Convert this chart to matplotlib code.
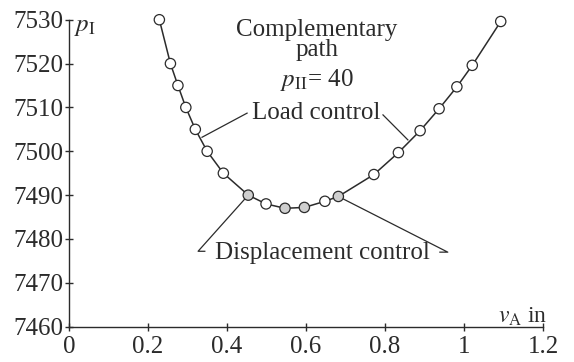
import matplotlib.pyplot as plt

# complementary path, p_II = 40
v_a = [0.229, 0.257, 0.276, 0.296, 0.320, 0.350, 0.391, 0.454, 0.499, 0.547,
       0.596, 0.648, 0.682, 0.772, 0.834, 0.889, 0.937, 0.982, 1.021, 1.093]
p_1 = [7530.0, 7520.0, 7515.0, 7510.0, 7505.0, 7500.0, 7495.0, 7490.0, 7488.0, 7487.0,
       7487.2, 7488.6, 7489.7, 7494.7, 7499.7, 7504.7, 7509.7, 7514.7, 7519.6, 7529.6]
# displacement-control points that are shaded grey in the figure
shaded = [7, 9, 10, 12]

x_ticks = [0, 0.2, 0.4, 0.6, 0.8, 1.0, 1.2]
x_labels = ["0", "0.2", "0.4", "0.6", "0.8", "1", "1.2"]
y_ticks = [7460, 7470, 7480, 7490, 7500, 7510, 7520, 7530]

plt.rcParams['font.family'] = ['Liberation Serif', 'DejaVu Serif']
plt.rcParams['mathtext.fontset'] = 'stix'
plt.rcParams['font.size'] = 18

ink = '#2b2b2b'
fig = plt.figure(figsize=(5.74, 3.62), dpi=100)
ax = fig.add_axes([0.120, 0.0975, 0.826, 0.848])

ax.plot(v_a, p_1, color=ink, lw=1.1, zorder=2, clip_on=False)
faces = ['#cfcfcf' if i in shaded else 'white' for i in range(len(v_a))]
ax.scatter(v_a, p_1, s=55, facecolors=faces, edgecolors=ink, linewidths=0.9,
           zorder=3, clip_on=False)

ax.set_xlim(0, 1.2)
ax.set_ylim(7460, 7530)
ax.set_xticks(x_ticks)
ax.set_xticklabels(x_labels)
ax.set_yticks(y_ticks)
for s in ['top', 'right']:
    ax.spines[s].set_visible(False)
for s in ['left', 'bottom']:
    ax.spines[s].set_color(ink)
    ax.spines[s].set_linewidth(1.0)
ax.tick_params(direction='inout', length=6, width=1.0, colors=ink)
ax.tick_params(axis='y', pad=1)
ax.tick_params(axis='x', pad=3.5)

# axis labels at the ends of the axes
ax.text(0.014, 7528.3, r'$p_{\mathrm{I}}$', color=ink, va='center', ha='left')
ax.text(1.212, 7460.9, r'$v_{\mathrm{A}}$ in', fontsize=17, color=ink,
        va='baseline', ha='right', clip_on=False)

ax.text(0.628, 7527.7, 'Complementary', color=ink, ha='center', va='center')
ax.text(0.628, 7523.1, 'path', color=ink, ha='center', va='center')
ax.text(0.628, 7516.3, r'$p_{\mathrm{II}}$= 40', color=ink, ha='center', va='center')

# leader lines
ax.text(0.463, 7508.7, 'Load control', color=ink, ha='left', va='center')
ax.plot([0.451, 0.337], [7508.7, 7503.2], color=ink, lw=0.9)
ax.plot([0.795, 0.858], [7508.3, 7502.6], color=ink, lw=0.9)

ax.text(0.370, 7476.8, 'Displacement control', color=ink, ha='left', va='center')
ax.plot([0.344, 0.327, v_a[7]], [7477.2, 7477.2, p_1[7]], color=ink, lw=0.9)
ax.plot([0.939, 0.959, v_a[12]], [7477.0, 7477.0, p_1[12]], color=ink, lw=0.9)

fig.savefig('out.png', dpi=100)
